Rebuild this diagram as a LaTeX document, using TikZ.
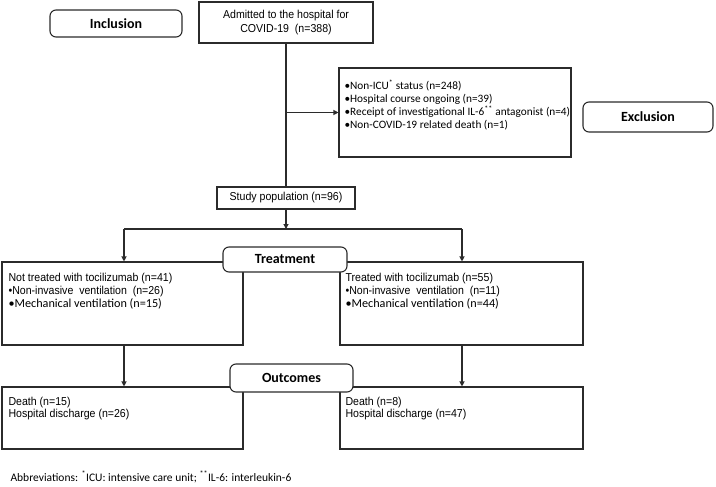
\documentclass[tikz,border=0pt]{standalone}
\usepackage{fontspec}
\setmainfont{Carlito}
\newfontfamily\narrowfont[FakeStretch=0.92]{Liberation Sans}
\usetikzlibrary{arrows.meta}
\definecolor{linegray}{HTML}{2B2B2B}

\begin{document}
\begin{tikzpicture}[x=1pt,y=-1pt,line width=1.1pt,draw=linegray,
  box/.style={draw=linegray,rectangle,inner sep=0pt},
  head/.style={draw=linegray,rounded corners=6pt,fill=white,inner sep=0pt,
    font=\fontsize{14}{16}\selectfont\bfseries},
  txt/.style={anchor=north west,align=left,inner sep=0pt},
  arr/.style={-{Triangle[length=5pt,width=5pt]}}]
  \useasboundingbox (0,0) rectangle (716,487);
  % top part
  \node[head,minimum width=132pt,minimum height=27pt] (incl) at (116,23.5) {Inclusion};
  \node[box,minimum width=174pt,minimum height=41pt,align=center,
    font=\narrowfont\fontsize{11.5}{14}\selectfont] (adm) at (286,22.5)
    {Admitted to the hospital for\\COVID-19\ \ (n=388)};
  \node[box,minimum width=232pt,minimum height=89pt] (exl) at (455,112.5) {};
  \node[txt,font=\fontsize{11.3}{13}\selectfont] (exltxt) at (344,79.5)
    {\textbullet Non-ICU\textsuperscript{*} status (n=248)\\
     \textbullet Hospital course ongoing (n=39)\\
     \textbullet Receipt of investigational IL-6\textsuperscript{**} antagonist (n=4)\\
     \textbullet Non-COVID-19 related death\ (n=1)};
  \node[head,minimum width=130pt,minimum height=30pt] (exhd) at (648,117) {Exclusion};
  \node[box,minimum width=138pt,minimum height=22pt,
    font=\narrowfont\fontsize{11.5}{14}\selectfont] (study) at (286,198) {Study population (n=96)};
  \coordinate (brL) at (124,229);
  \coordinate (brR) at (462,229);
  % treatment
  \node[box,minimum width=241pt,minimum height=83pt] (notx) at (122.5,303.5) {};
  \node[box,minimum width=243pt,minimum height=83pt] (tocx) at (461.5,303.5) {};
  \node[head,minimum width=124pt,minimum height=25pt] (treat) at (285,259.5) {Treatment};
  \node[txt,font=\fontsize{11.5}{13}\selectfont] (notxtxt) at (8,272.5)
    {{\narrowfont Not treated\ with\ tocilizumab\ (n=41)}\\
     {\narrowfont\textbullet Non-invasive\ \ ventilation\ \ (n=26)}\\
     {\fontsize{12.2}{13}\selectfont\textbullet Mechanical ventilation (n=15)}};
  \node[txt,font=\fontsize{11.5}{13}\selectfont] (tocxtxt) at (345,272.5)
    {{\narrowfont Treated\ with\ tocilizumab\ (n=55)}\\
     {\narrowfont\textbullet Non-invasive\ \ ventilation\ \ (n=11)}\\
     {\fontsize{12.2}{13}\selectfont\textbullet Mechanical ventilation (n=44)}};
  % outcomes
  \node[box,minimum width=241pt,minimum height=62pt] (notout) at (122.5,418) {};
  \node[box,minimum width=243pt,minimum height=62pt] (tocout) at (461.5,418) {};
  \node[head,minimum width=123pt,minimum height=28pt] (outc) at (291.5,378) {Outcomes};
  \node[txt,font=\narrowfont\fontsize{11.5}{12.5}\selectfont] (notouttxt) at (8,396.5)
    {Death\ (n=15)\\Hospital\ discharge\ (n=26)};
  \node[txt,font=\narrowfont\fontsize{11.5}{12.5}\selectfont] (tocouttxt) at (345,396.5)
    {Death\ (n=8)\\Hospital\ discharge\ (n=47)};
  \node[anchor=base west,inner sep=0pt,font=\fontsize{11.5}{13}\selectfont] (abbr) at (10,481)
    {Abbreviations: \textsuperscript{*}ICU: intensive care unit; \textsuperscript{**}IL-6: interleukin-6};
  % connectors
  \draw (adm.south) -- (study.north);
  \draw[arr] (adm.south |- exl.west) -- (exl.west);
  \draw[arr] (study.south) -- (study.south |- brL);
  \draw (brL) -- (brR);
  \draw[arr] (brL) -- (brL |- notx.north);
  \draw[arr] (brR) -- (brR |- tocx.north);
  \draw[arr] (brL |- notx.south) -- (brL |- notout.north);
  \draw[arr] (brR |- tocx.south) -- (brR |- tocout.north);
\end{tikzpicture}
\end{document}
